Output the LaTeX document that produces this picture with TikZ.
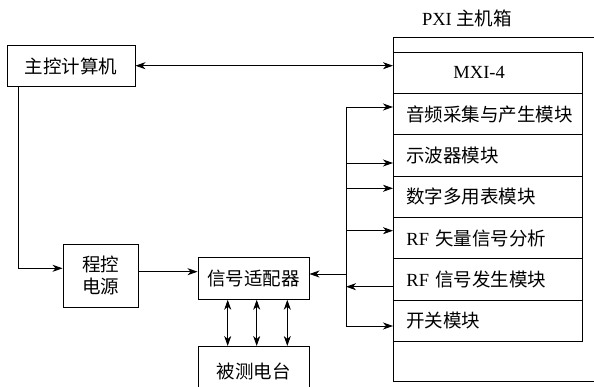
\documentclass[tikz,border=0pt]{standalone}
\usepackage{fontspec}
\setmainfont{Liberation Serif}
\newfontfamily\cjk{Noto Sans CJK SC}
\usetikzlibrary{arrows.meta}
\begin{document}
\begin{tikzpicture}[x=1pt,y=-1pt,
  every node/.style={font=\fontsize{18.5}{22}\selectfont},
  box/.style={draw,line width=0.9pt,inner sep=0pt,font=\fontsize{18.5}{22}\selectfont\cjk},
  row/.style={draw,line width=0.9pt,minimum width=188.7pt,minimum height=41.3pt,anchor=north west,
    text width=162.7pt,inner xsep=13pt,inner ysep=0pt,align=left},
  ln/.style={line width=0.9pt},
  arr/.style={ln,-{Stealth[length=10pt,width=7pt,inset=3pt]}},
  darr/.style={ln,{Stealth[length=10pt,width=7pt,inset=3pt]}-{Stealth[length=10pt,width=7pt,inset=3pt]}}]
\useasboundingbox (0,0) rectangle (594,387);
% left boxes
\node[box,minimum width=128pt,minimum height=41.3pt] (pc) at (71,66.3) {主控计算机};
\node[box,minimum width=75pt,minimum height=63.3pt,align=center] (pwr) at (100.5,275.7) {程控\\电源};
\node[box,minimum width=111pt,minimum height=41.6pt] (adp) at (253.5,278.5) {信号适配器};
\node[box,minimum width=111pt,minimum height=49pt,anchor=north] (dut) at (253.5,346) {被测电台};
% PXI chassis
\node (pxil) at (467,18) {PXI {\cjk 主机箱}};
\coordinate (otl) at (393,37);
\coordinate (otr) at (596,37);
\coordinate (obl) at (393,381.5);
\coordinate (obr) at (596,381.5);
\draw[ln] (otr) -- (otl) -- (obl) -- (obr);
\node[row] (r1) at (393,51.7) {\hspace*{47pt}MXI-4};
\node[row] (r2) at (393,93) {\cjk 音频采集与产生模块};
\node[row] (r3) at (393,134.3) {\cjk 示波器模块};
\node[row] (r4) at (393,175.6) {\cjk 数字多用表模块};
\node[row] (r5) at (393,216.9) {RF {\cjk 矢量信号分析}};
\node[row] (r6) at (393,258.2) {RF {\cjk 信号发生模块}};
\node[row] (r7) at (393,299.5) {\cjk 开关模块};
% connectors
\draw[darr] (pc.east |- 0,65.7) -- (r1.west |- 0,65.7);
\coordinate (pcd) at (18.3,87);
\coordinate (pcc) at (18.3,268.3);
\draw[arr] (pcd) -- (pcc) -- (pwr.west |- pcc);
\draw[arr] (pwr.east |- 0,271.7) -- (adp.west |- 0,271.7);
\coordinate (bt) at (346,107);
\coordinate (bb) at (346,326);
\coordinate (bj) at (346,274);
\draw[ln] (bt) -- (bb);
\draw[arr] (bj) -- (adp.east |- bj);
\draw[arr] (bt) -- (r2.west |- bt);
\draw[arr] (346,163) -- (r3.west |- 0,163);
\draw[arr] (346,188.3) -- (r4.west |- 0,188.3);
\draw[arr] (346,230.7) -- (r5.west |- 0,230.7);
\draw[arr] (r6.west |- 0,286.7) -- (346,286.7);
\draw[arr] (bb) -- (r7.west |- bb);
\foreach \x in {227.7,256.7,287.3}
  \draw[darr] (adp.south -| \x,0) -- (dut.north -| \x,0);
\end{tikzpicture}
\end{document}
